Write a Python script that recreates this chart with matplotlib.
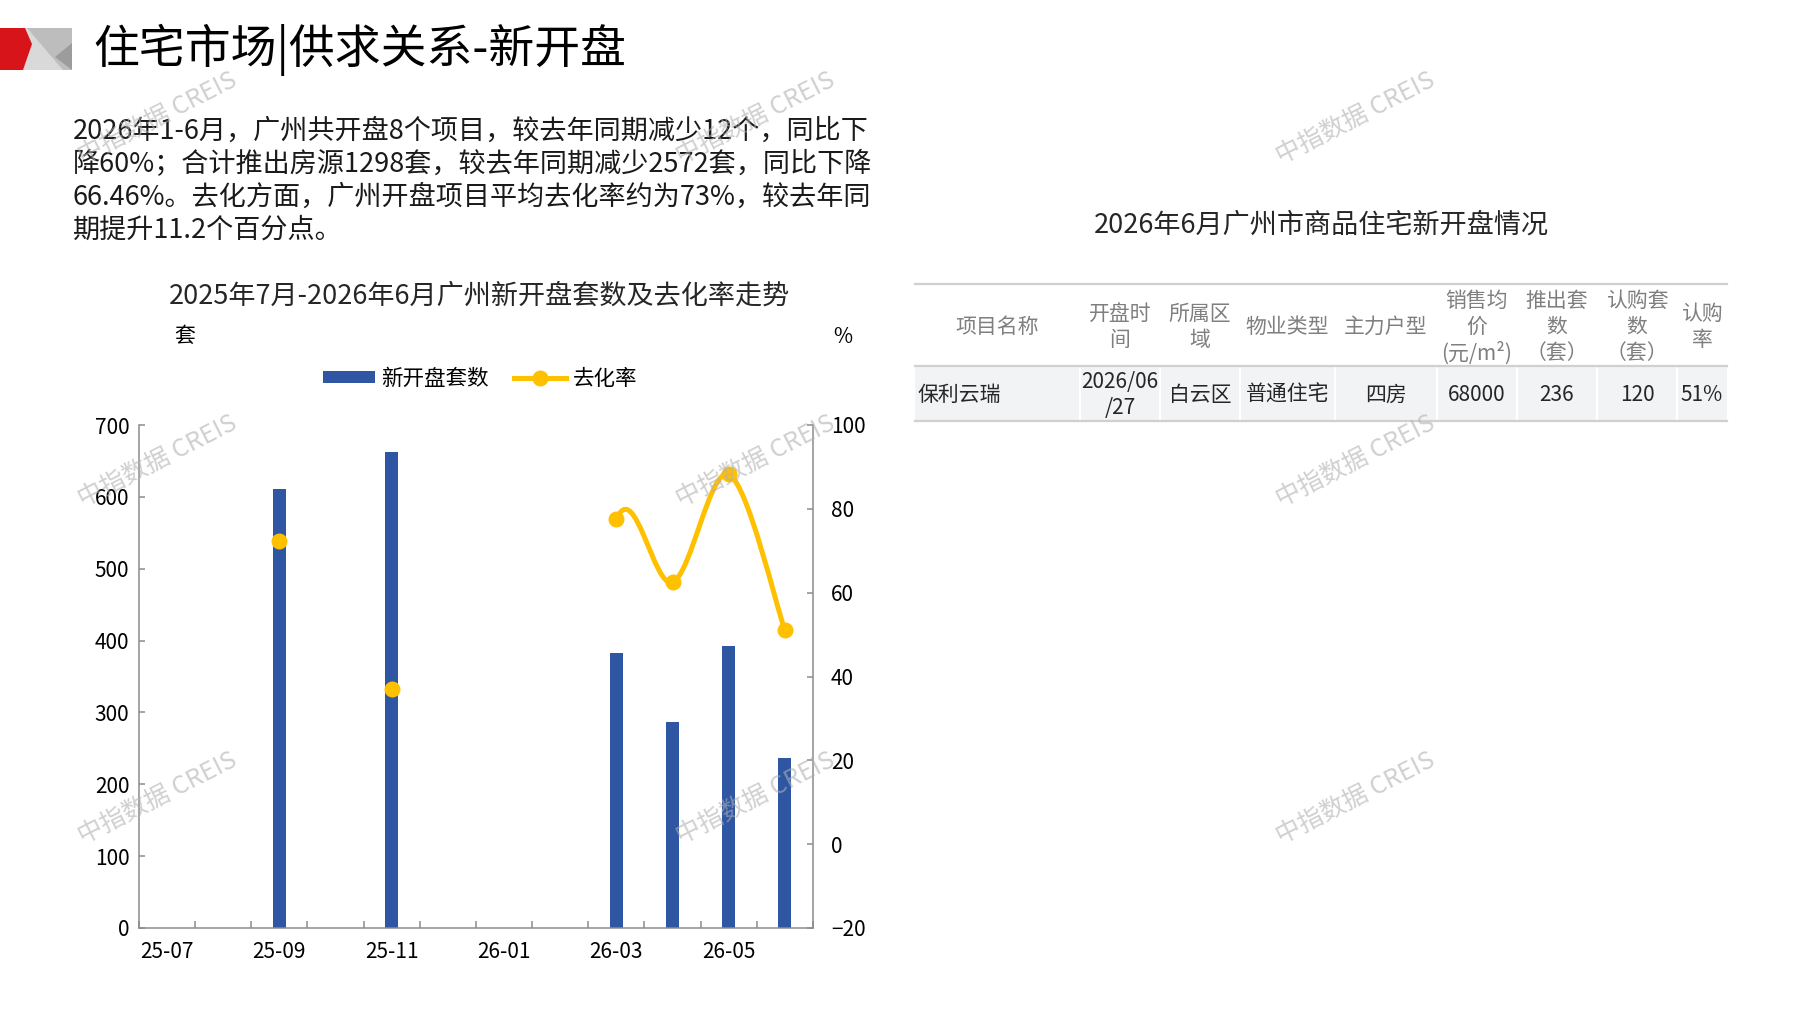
import numpy as np
import matplotlib
matplotlib.use("Agg")
import matplotlib.pyplot as plt
from matplotlib.path import Path
from matplotlib.patches import PathPatch, Polygon, Rectangle, Patch
from matplotlib.lines import Line2D

plt.rcParams['font.family'] = ['Noto Sans CJK SC', 'DejaVu Sans']

# data
months = ['25-07', '25-08', '25-09', '25-10', '25-11', '25-12',
          '26-01', '26-02', '26-03', '26-04', '26-05', '26-06']
new_units = [np.nan, np.nan, 611, np.nan, 662, np.nan,
             np.nan, np.nan, 383, 287, 392, 236]
sell_rate = [np.nan, np.nan, 72.4, np.nan, 37.0, np.nan,
             np.nan, np.nan, 77.5, 62.5, 88.2, 51.0]

page_title = '住宅市场|供求关系-新开盘'
summary_lines = [
    '2026年1-6月，广州共开盘8个项目，较去年同期减少12个，同比下',
    '降60%；合计推出房源1298套，较去年同期减少2572套，同比下降',
    '66.46%。去化方面，广州开盘项目平均去化率约为73%，较去年同',
    '期提升11.2个百分点。',
]
chart_title = '2025年7月-2026年6月广州新开盘套数及去化率走势'
legend_labels = ['新开盘套数', '去化率']

table_title = '2026年6月广州市商品住宅新开盘情况'
table_headers = ['项目名称', '开盘时\n间', '所属区\n域', '物业类型', '主力户型',
                 '销售均\n价\n(元/m²)', '推出套\n数\n（套）', '认购套\n数\n（套）', '认购\n率']
table_row = ['保利云瑞', '2026/06\n/27', '白云区', '普通住宅', '四房',
             '68000', '236', '120', '51%']

watermark = '中指数据 CREIS'

bar_color = '#2E56A3'
line_color = '#FFC000'
axis_gray = '#8C8C8C'

W, H = 1797, 1010
fig = plt.figure(figsize=(W / 100, H / 100), dpi=100)

# chart axes (pixel box 139..813 x 425..928)
ax = fig.add_axes([139 / W, 1 - 928 / H, (813 - 139) / W, (928 - 425) / H])
x = np.arange(len(months))
ax.bar(x, new_units, width=0.23, color=bar_color, zorder=2)
ax.set_xlim(-0.5, len(months) - 0.5)
ax.set_ylim(0, 700)
ax.set_yticks(np.arange(0, 701, 100))
ax.set_xticks(np.arange(-0.5, len(months), 1))
ax.set_xticklabels([])
ax.set_xticks(x[::2], minor=True)
ax.set_xticklabels(months[::2], minor=True)
ax.tick_params(axis='x', which='major', direction='in', length=5, width=1.1, color=axis_gray)
ax.tick_params(axis='x', which='minor', length=0, pad=9, labelsize=15)
ax.tick_params(axis='y', direction='in', length=4, width=1.1, color=axis_gray, pad=7, labelsize=15)
for s in ['top', 'right']:
    ax.spines[s].set_visible(False)
for s in ['left', 'bottom']:
    ax.spines[s].set_color(axis_gray)
    ax.spines[s].set_linewidth(1.1)

ax2 = ax.twinx()
ax2.set_ylim(-20, 100)
ax2.set_yticks(np.arange(-20, 101, 20))
ax2.tick_params(axis='y', direction='in', length=4, width=1.1, color=axis_gray, pad=13, labelsize=15)
for s in ['top', 'left', 'bottom']:
    ax2.spines[s].set_visible(False)
ax2.spines['right'].set_color(axis_gray)
ax2.spines['right'].set_linewidth(1.1)


def smooth_path(xs, ys):
    # excel-like smoothed line: bezier through valid points, gaps stay open.
    # like excel, a blank neighbour counts as 0 when the tangent is taken
    n = len(ys)
    idx = [i for i, v in enumerate(ys) if not np.isnan(v)]

    def pt(i):
        v = ys[i]
        return np.array([xs[i], 0.0 if np.isnan(v) else v], dtype=float)

    def tangent(i):
        a = pt(max(i - 1, 0))
        b = pt(min(i + 1, n - 1))
        return (b - a) / 6.0

    verts, codes = [], []
    last = None
    for i in idx:
        j = i + 1
        if j >= n or np.isnan(ys[j]):
            continue
        if last != i:
            verts.append(pt(i))
            codes.append(Path.MOVETO)
        verts += [pt(i) + tangent(i), pt(j) - tangent(j), pt(j)]
        codes += [Path.CURVE4] * 3
        last = j
    return Path(verts, codes)


ax2.add_patch(PathPatch(smooth_path(x, sell_rate), facecolor='none',
                        edgecolor=line_color, lw=3.6, capstyle='round', zorder=3))
ax2.plot(x, sell_rate, 'o', color=line_color, ms=10.5, zorder=4)

handles = [Patch(facecolor=bar_color),
           Line2D([], [], color=line_color, lw=3.6, marker='o', ms=10.5)]
fig.legend(handles, legend_labels, loc='center', bbox_to_anchor=(480 / W, 1 - 379 / H),
           bbox_transform=fig.transFigure, ncol=2, frameon=False, fontsize=15.5,
           handlelength=2.4, handleheight=0.5, handletextpad=0.3, columnspacing=1.2)

# overlay in pixel coordinates for page texts, logo and table
ov = fig.add_axes([0, 0, 1, 1])
ov.set_xlim(0, W)
ov.set_ylim(H, 0)
ov.axis('off')
ov.patch.set_visible(False)

ov.add_patch(Rectangle((0, 28), 72, 42, color='#D9D9D9', lw=0))
ov.add_patch(Polygon([(27, 28), (72, 28), (72, 70), (63, 70)], color='#BDBDBD', lw=0))
ov.add_patch(Polygon([(55, 57), (72, 43), (72, 70)], color='#9C9C9C', lw=0))
ov.add_patch(Polygon([(0, 28), (25, 28), (32, 44), (23, 70), (0, 70)], color='#D7141A', lw=0))

ov.text(93, 50, page_title, fontsize=33, va='center', ha='left', color='black')
for i, line in enumerate(summary_lines):
    ov.text(73, 131 + i * 33, line, fontsize=19.5, va='center', ha='left', color='#1A1A1A')

ov.text(479, 296, chart_title, fontsize=19.5, ha='center', va='center', color='#262626')
ov.text(185, 336, '套', fontsize=15, ha='center', va='center')
ov.text(843, 337, '%', fontsize=15, ha='center', va='center')

# table
ov.text(1321, 225, table_title, fontsize=19.5, ha='center', va='center', color='#262626')
col_edges = [915, 1080, 1160, 1240, 1335, 1437, 1517, 1597, 1677, 1727]
top, mid, bot = 284, 366, 421
ov.add_patch(Rectangle((col_edges[0], mid), col_edges[-1] - col_edges[0], bot - mid,
                       color='#F2F3F5', lw=0))
for e in col_edges[1:-1]:
    ov.plot([e, e], [mid + 2, bot - 2], color='white', lw=1.5)
for yy in [top, mid, bot]:
    ov.plot([col_edges[0], col_edges[-1]], [yy, yy], color='#D0D0D0', lw=1.6)

for j, head in enumerate(table_headers):
    cx = (col_edges[j] + col_edges[j + 1]) / 2
    parts = head.split('\n')
    for k, p in enumerate(parts):
        yy = 327 + (k - (len(parts) - 1) / 2) * 26
        ov.text(cx, yy, p, fontsize=15, ha='center', va='center', color='#7F7F7F')
for j, val in enumerate(table_row):
    cx = (col_edges[j] + col_edges[j + 1]) / 2
    parts = val.split('\n')
    for k, p in enumerate(parts):
        yy = 395 + (k - (len(parts) - 1) / 2) * 25
        if j == 0:
            ov.text(col_edges[0] + 3, yy, p, fontsize=15, ha='left', va='center', color='#262626')
        else:
            ov.text(cx, yy, p, fontsize=15, ha='center', va='center', color='#262626')

# watermarks
for wx in [158, 756, 1356]:
    for wy in [118, 461, 798]:
        ov.text(wx, wy, watermark, fontsize=18, rotation=27, ha='center', va='center',
                color='#B0B0B0', alpha=0.6, zorder=10)

fig.savefig('out.png', dpi=100)
